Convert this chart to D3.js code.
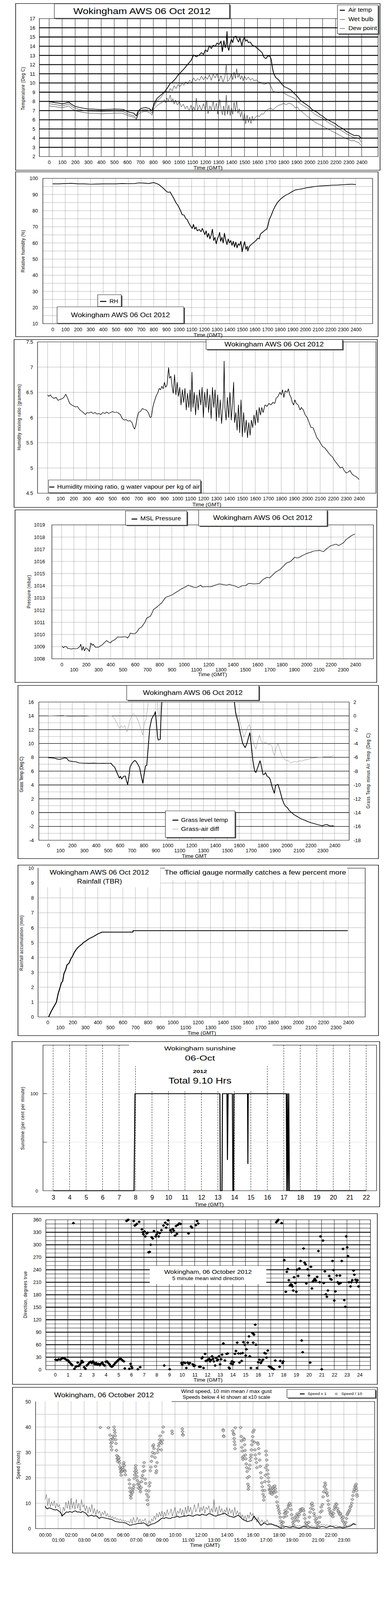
<!DOCTYPE html>
<html><head><meta charset="utf-8">
<script src="https://cdn.jsdelivr.net/npm/d3@7"></script>
<style>body{margin:0;background:#fff;overflow:hidden}</style>
</head><body>
<script>
// ---------- data ----------
// times are decimal hours, 0..24
var airTemp = [[0,7.95],[0.25,7.92],[0.5,7.85],[0.75,7.8],[1.0,7.72],[1.25,7.8],[1.5,7.92],[1.7,7.7],[2.0,7.45],[2.3,7.35],[2.6,7.26],[3.0,7.17],[3.5,7.15],[4.0,7.1],[4.5,7.13],[5.0,7.16],[5.4,7.15],[5.7,7.12],[5.9,6.95],[6.2,6.8],[6.5,6.72],[6.7,6.42],[6.85,6.98],[7.1,7.25],[7.4,7.34],[7.7,7.2],[7.9,6.98],[8.05,7.7],[8.3,8.35],[8.6,8.7],[8.9,9.1],[9.1,9.5],[9.3,9.95],[9.5,10.15],[9.7,10.45],[9.9,10.85],[10.1,11.15],[10.4,11.6],[10.6,11.95],[10.9,12.45],[11.1,13.05],[11.3,12.85],[11.5,13.0],[11.7,13.3],[11.85,13.1],[12.0,13.6],[12.15,13.4],[12.3,14.05],[12.45,13.75],[12.6,14.1],[12.75,14.0],[12.9,14.35],[13.05,14.2],[13.2,14.55],[13.3,13.4],[13.42,14.6],[13.52,13.85],[13.6,14.2],[13.66,15.6],[13.72,13.9],[13.8,13.55],[13.9,14.3],[14.0,14.75],[14.1,14.4],[14.2,15.0],[14.35,15.1],[14.45,14.7],[14.55,14.45],[14.65,14.9],[14.8,14.05],[14.9,14.7],[15.0,14.95],[15.1,14.55],[15.2,14.7],[15.3,14.4],[15.45,14.45],[15.6,14.1],[15.8,14.0],[16.0,13.75],[16.2,13.5],[16.35,13.3],[16.5,12.8],[16.65,12.65],[16.8,12.95],[16.95,12.9],[17.05,12.6],[17.15,11.6],[17.25,11.0],[17.4,10.6],[17.65,10.3],[17.85,9.9],[18.05,9.6],[18.3,9.45],[18.55,9.25],[18.8,8.9],[19.05,8.55],[19.3,8.1],[19.55,7.85],[19.8,7.6],[20.0,7.4],[20.2,7.1],[20.4,6.95],[20.6,6.8],[20.8,6.55],[21.0,6.4],[21.2,6.15],[21.4,6.0],[21.6,5.85],[21.8,5.7],[22.0,5.55],[22.2,5.3],[22.4,5.15],[22.6,5.0],[22.8,4.75],[23.0,4.6],[23.2,4.45],[23.4,4.3],[23.6,4.3],[23.8,4.25],[23.95,4.0]];
var wetBulb = [[0,7.75],[0.5,7.65],[1.0,7.5],[1.5,7.72],[1.8,7.4],[2.1,7.2],[2.6,7.02],[3.0,6.95],[3.5,6.93],[4.0,6.9],[4.5,6.93],[5.0,6.95],[5.6,6.93],[5.9,6.75],[6.2,6.55],[6.5,6.45],[6.7,6.12],[6.85,6.8],[7.1,7.05],[7.4,7.12],[7.7,7.0],[7.9,6.72],[8.05,7.5],[8.3,8.05],[8.6,8.45],[8.8,8.85],[9.0,9.1],[9.15,8.95],[9.3,9.4],[9.45,9.15],[9.6,9.7],[9.75,9.4],[9.9,9.85],[10.05,9.6],[10.2,9.95],[10.35,9.75],[10.5,10.15],[10.65,9.9],[10.8,10.3],[10.95,10.05],[11.1,10.55],[11.25,10.2],[11.4,10.5],[11.55,10.3],[11.7,10.75],[11.85,10.35],[12.0,10.7],[12.15,10.4],[12.3,10.9],[12.45,10.3],[12.6,10.95],[12.75,10.55],[12.9,11.0],[13.05,10.2],[13.2,10.8],[13.35,10.1],[13.5,10.7],[13.6,11.95],[13.7,10.15],[13.8,10.3],[13.9,10.6],[14.0,11.0],[14.1,10.35],[14.2,11.2],[14.3,10.5],[14.4,11.55],[14.5,10.6],[14.6,10.95],[14.7,10.4],[14.8,10.8],[14.9,10.25],[15.0,10.75],[15.15,10.35],[15.3,10.65],[15.45,10.3],[15.6,10.5],[15.75,10.2],[15.9,10.35],[16.1,10.1],[16.3,10.05],[16.5,9.85],[16.7,9.95],[16.85,10.07],[17.0,9.7],[17.2,9.1],[17.4,9.0],[17.6,8.95],[17.9,9.0],[18.15,8.8],[18.4,8.6],[18.65,8.45],[18.9,8.3],[19.05,8.0],[19.3,7.75],[19.55,7.5],[19.8,7.3],[20.0,7.1],[20.2,6.85],[20.4,6.6],[20.6,6.45],[20.8,6.3],[21.0,6.15],[21.2,5.95],[21.4,5.75],[21.6,5.55],[21.8,5.4],[22.0,5.2],[22.2,5.05],[22.4,4.85],[22.6,4.7],[22.8,4.5],[23.0,4.35],[23.2,4.2],[23.4,4.05],[23.6,4.05],[23.8,3.95],[23.95,3.6]];
var dewPoint = [[0,7.5],[0.5,7.42],[1.0,7.3],[1.5,7.5],[1.8,7.15],[2.1,6.95],[2.6,6.8],[3.0,6.72],[3.5,6.7],[4.0,6.65],[4.5,6.68],[5.0,6.72],[5.6,6.72],[5.9,6.55],[6.2,6.38],[6.5,6.3],[6.7,6.0],[6.85,6.6],[7.1,6.85],[7.4,6.92],[7.7,6.8],[7.9,6.5],[8.05,7.2],[8.3,7.55],[8.5,7.75],[8.7,7.9],[8.85,8.2],[8.95,7.85],[9.05,8.35],[9.15,8.05],[9.3,8.7],[9.4,7.95],[9.5,8.3],[9.6,7.7],[9.7,8.15],[9.85,7.6],[10.0,7.95],[10.15,7.4],[10.3,7.7],[10.45,7.2],[10.6,7.5],[10.75,6.95],[10.9,7.6],[11.0,6.9],[11.1,7.4],[11.2,7.0],[11.3,8.35],[11.4,7.05],[11.55,7.6],[11.7,7.0],[11.85,7.75],[12.0,7.0],[12.1,8.1],[12.2,6.65],[12.35,7.5],[12.45,7.05],[12.6,8.0],[12.7,7.0],[12.85,7.8],[12.95,6.6],[13.1,8.2],[13.2,7.2],[13.3,6.55],[13.4,7.5],[13.5,6.45],[13.6,8.7],[13.7,6.6],[13.8,7.6],[13.9,6.45],[14.0,7.3],[14.1,6.6],[14.2,7.9],[14.3,6.9],[14.4,8.05],[14.5,6.7],[14.6,7.2],[14.7,6.3],[14.8,6.9],[14.9,5.9],[15.0,6.7],[15.1,5.55],[15.2,6.5],[15.3,5.7],[15.4,6.3],[15.5,5.6],[15.6,6.4],[15.7,5.9],[15.85,6.3],[16.0,6.45],[16.15,6.35],[16.3,6.65],[16.45,6.6],[16.6,6.9],[16.8,7.15],[17.0,7.25],[17.2,7.1],[17.4,7.35],[17.6,7.55],[17.8,7.65],[18.0,7.78],[18.2,7.65],[18.4,7.8],[18.6,7.72],[18.8,7.5],[18.9,7.28],[19.05,7.4],[19.2,7.1],[19.4,6.9],[19.6,6.65],[19.8,6.4],[20.0,6.2],[20.2,5.95],[20.4,5.75],[20.6,5.6],[20.8,5.45],[21.0,5.3],[21.2,5.15],[21.4,5.0],[21.6,4.85],[21.8,4.7],[22.0,4.55],[22.2,4.4],[22.4,4.25],[22.6,4.1],[22.8,3.95],[23.0,3.85],[23.2,3.7],[23.4,3.75],[23.6,3.6],[23.8,3.5],[23.95,3.2]];

var relHum = [[0,96.6],[0.5,96.6],[1,96.8],[1.5,96.9],[2,96.6],[2.5,96.6],[3,96.4],[3.5,96.5],[4,96.6],[4.5,96.6],[5,96.6],[5.5,96.8],[6,96.7],[6.5,96.8],[6.8,97.2],[7.2,97.1],[7.6,96.8],[8.0,97.4],[8.2,96.9],[8.4,96.2],[8.6,95],[8.8,93.6],[9.0,92.0],[9.15,91.3],[9.3,91.6],[9.45,89.5],[9.6,87.5],[9.75,85.0],[9.9,83.5],[10.0,82.0],[10.1,80.5],[10.25,77.5],[10.4,77.3],[10.55,75.0],[10.65,74.5],[10.8,72.0],[10.95,70.2],[11.05,69.0],[11.15,71.5],[11.25,68.5],[11.35,69.8],[11.45,67.5],[11.6,68.3],[11.75,67.0],[11.85,69.0],[11.95,67.2],[12.05,65.2],[12.15,67.5],[12.25,63.5],[12.35,66.0],[12.45,62.5],[12.55,64.8],[12.65,68.5],[12.75,61.5],[12.85,63.5],[12.95,59.5],[13.05,62.5],[13.15,64.5],[13.22,66.5],[13.3,61.0],[13.4,63.5],[13.5,60.0],[13.6,66.0],[13.7,62.0],[13.8,59.0],[13.9,62.5],[14.0,60.0],[14.1,61.5],[14.2,58.5],[14.3,61.0],[14.4,57.5],[14.5,60.5],[14.6,57.0],[14.7,59.5],[14.8,58.5],[14.9,61.0],[15.0,54.5],[15.1,58.0],[15.2,60.8],[15.3,56.0],[15.4,58.0],[15.45,55.0],[15.55,57.5],[15.65,58.5],[15.8,59.5],[15.95,60.5],[16.1,61.5],[16.25,63.0],[16.35,62.5],[16.45,65.5],[16.6,66.5],[16.75,67.5],[16.85,68.2],[16.95,68.5],[17.05,71.0],[17.15,74.5],[17.3,77.0],[17.45,80.0],[17.6,82.5],[17.75,84.5],[17.9,86.0],[18.05,87.2],[18.25,88.5],[18.45,89.6],[18.7,90.5],[18.95,91.8],[19.2,92.8],[19.5,93.2],[19.8,93.6],[20.1,94.2],[20.4,94.5],[20.7,94.9],[21.0,95.2],[21.4,95.4],[21.8,95.6],[22.2,95.8],[22.6,95.9],[23.0,96.1],[23.4,96.3],[23.7,96.4],[24.0,96.2]];

var mixRatio = [[0,6.45],[0.1,6.42],[0.2,6.45],[0.35,6.4],[0.5,6.38],[0.65,6.4],[0.8,6.34],[0.95,6.36],[1.1,6.37],[1.25,6.4],[1.4,6.46],[1.55,6.38],[1.7,6.28],[1.85,6.25],[2.0,6.23],[2.15,6.21],[2.3,6.22],[2.45,6.16],[2.6,6.13],[2.75,6.1],[2.9,6.06],[3.05,6.1],[3.2,6.09],[3.35,6.11],[3.5,6.08],[3.65,6.1],[3.8,6.07],[3.95,6.08],[4.1,6.06],[4.25,6.1],[4.4,6.08],[4.55,6.11],[4.7,6.08],[4.85,6.1],[5.0,6.12],[5.15,6.1],[5.3,6.11],[5.45,6.09],[5.6,6.06],[5.75,5.98],[5.9,5.95],[6.05,5.96],[6.2,5.93],[6.35,5.94],[6.5,5.9],[6.6,5.82],[6.7,5.77],[6.8,5.85],[6.9,6.0],[7.0,6.1],[7.15,6.12],[7.3,6.18],[7.45,6.16],[7.6,6.15],[7.75,6.1],[7.9,6.0],[8.0,6.02],[8.1,6.2],[8.2,6.3],[8.35,6.42],[8.5,6.5],[8.6,6.58],[8.7,6.55],[8.8,6.62],[8.9,6.57],[9.0,6.7],[9.1,6.6],[9.2,6.65],[9.32,6.99],[9.4,6.78],[9.5,6.82],[9.6,6.6],[9.68,6.48],[9.78,6.85],[9.88,6.45],[9.98,6.7],[10.08,6.42],[10.18,6.6],[10.28,6.25],[10.38,6.55],[10.48,6.3],[10.58,6.58],[10.68,6.15],[10.78,6.48],[10.88,6.2],[10.98,6.55],[11.05,6.12],[11.12,6.9],[11.2,6.2],[11.3,6.5],[11.4,6.05],[11.5,6.45],[11.6,6.15],[11.7,6.55],[11.8,6.25],[11.9,6.6],[12.0,6.0],[12.1,6.5],[12.2,6.2],[12.3,6.57],[12.4,6.1],[12.5,6.45],[12.6,5.98],[12.7,6.6],[12.8,6.2],[12.9,6.55],[13.0,5.93],[13.1,6.45],[13.2,6.0],[13.3,6.35],[13.4,5.88],[13.5,6.2],[13.55,6.45],[13.6,7.12],[13.66,6.2],[13.75,5.95],[13.85,6.4],[13.95,6.0],[14.05,6.5],[14.15,5.95],[14.25,6.3],[14.33,6.7],[14.4,5.9],[14.5,6.1],[14.6,5.75],[14.7,6.25],[14.8,5.7],[14.9,6.35],[15.0,5.62],[15.1,6.1],[15.2,5.7],[15.3,5.95],[15.4,5.6],[15.5,5.9],[15.6,5.65],[15.7,5.95],[15.8,5.8],[15.9,6.05],[16.0,5.85],[16.1,6.15],[16.2,5.9],[16.3,6.2],[16.4,6.05],[16.5,6.2],[16.6,6.1],[16.75,6.25],[16.9,6.22],[17.05,6.28],[17.2,6.25],[17.35,6.3],[17.5,6.28],[17.6,6.38],[17.75,6.42],[17.9,6.5],[18.0,6.45],[18.1,6.55],[18.2,6.4],[18.3,6.53],[18.45,6.5],[18.55,6.57],[18.65,6.45],[18.75,6.4],[18.85,6.3],[18.95,6.25],[19.05,6.35],[19.15,6.28],[19.3,6.25],[19.45,6.15],[19.55,6.2],[19.7,6.15],[19.85,6.05],[20.0,6.0],[20.15,5.9],[20.3,5.8],[20.45,5.8],[20.6,5.7],[20.75,5.6],[20.9,5.55],[21.05,5.48],[21.2,5.42],[21.35,5.4],[21.5,5.35],[21.65,5.3],[21.8,5.25],[21.95,5.22],[22.1,5.15],[22.25,5.1],[22.4,5.05],[22.55,5.0],[22.7,5.02],[22.85,4.95],[23.0,4.9],[23.15,4.92],[23.3,4.95],[23.45,4.88],[23.6,4.85],[23.75,4.83],[23.9,4.8],[24.0,4.77]];

var mslPressure = [[0.04,1009.05],[0.15,1008.9],[0.25,1009.02],[0.39,1009.0],[0.5,1008.85],[0.6,1008.85],[0.8,1008.8],[0.95,1008.85],[1.1,1008.82],[1.3,1008.85],[1.4,1008.95],[1.48,1009.0],[1.56,1009.2],[1.66,1008.7],[1.76,1009.0],[1.86,1008.65],[1.98,1008.9],[2.13,1008.8],[2.27,1008.6],[2.38,1009.3],[2.5,1009.1],[2.58,1009.2],[2.75,1008.95],[3.0,1008.95],[3.15,1009.05],[3.26,1009.1],[3.46,1009.3],[3.67,1009.5],[3.8,1009.4],[3.98,1009.3],[4.1,1009.45],[4.22,1009.5],[4.4,1009.62],[4.59,1009.8],[4.8,1009.78],[5.0,1009.8],[5.27,1009.8],[5.37,1009.7],[5.5,1009.85],[5.61,1010.12],[5.8,1010.05],[6.02,1010.08],[6.18,1010.25],[6.33,1010.5],[6.54,1010.62],[6.8,1011.0],[6.95,1011.35],[7.05,1011.4],[7.25,1011.5],[7.4,1011.8],[7.5,1012.05],[7.65,1012.15],[7.83,1012.3],[8.0,1012.45],[8.18,1012.6],[8.35,1012.85],[8.48,1013.02],[8.6,1013.1],[8.79,1013.15],[9.0,1013.25],[9.1,1013.3],[9.25,1013.4],[9.4,1013.5],[9.6,1013.62],[9.8,1013.75],[10.0,1013.85],[10.2,1013.95],[10.35,1014.05],[10.5,1013.98],[10.7,1013.92],[10.9,1013.85],[11.05,1013.88],[11.2,1013.95],[11.35,1014.05],[11.5,1013.9],[11.66,1013.92],[11.9,1013.93],[12.17,1013.92],[12.4,1014.0],[12.68,1014.1],[12.9,1014.15],[13.1,1014.12],[13.3,1014.08],[13.5,1014.05],[13.7,1014.12],[13.9,1014.05],[14.1,1014.0],[14.3,1013.92],[14.43,1013.85],[14.6,1013.92],[14.73,1014.0],[15.04,1014.02],[15.25,1014.18],[15.4,1014.2],[15.66,1014.15],[15.9,1014.17],[16.17,1014.2],[16.3,1014.35],[16.43,1014.5],[16.6,1014.6],[16.78,1014.7],[16.99,1014.65],[17.15,1014.8],[17.3,1014.95],[17.45,1015.1],[17.6,1015.2],[17.8,1015.3],[17.95,1015.45],[18.11,1015.6],[18.25,1015.75],[18.42,1015.9],[18.6,1015.95],[18.73,1016.02],[18.9,1016.2],[19.04,1016.35],[19.2,1016.28],[19.34,1016.3],[19.55,1016.42],[19.75,1016.52],[19.95,1016.62],[20.16,1016.7],[20.35,1016.75],[20.57,1016.85],[20.8,1016.88],[21.09,1016.9],[21.25,1016.85],[21.39,1016.8],[21.6,1017.0],[21.8,1017.15],[22.0,1017.3],[22.2,1017.35],[22.42,1017.42],[22.62,1017.3],[22.8,1017.4],[22.99,1017.5],[23.1,1017.62],[23.24,1017.8],[23.45,1017.95],[23.65,1018.1],[23.8,1018.18],[23.95,1018.25]];

var grassTemp = [[0,7.95],[0.25,7.92],[0.5,7.88],[0.75,7.75],[0.95,7.7],[1.15,7.8],[1.35,7.92],[1.55,7.85],[1.7,7.5],[2.0,7.4],[2.3,7.35],[2.6,7.18],[3.0,7.15],[3.4,7.13],[3.8,7.16],[4.2,7.12],[4.6,7.13],[5.0,7.12],[5.25,7.15],[5.4,6.8],[5.55,6.6],[5.7,6.0],[5.85,5.4],[5.95,5.0],[6.05,5.25],[6.15,4.85],[6.3,5.25],[6.45,5.3],[6.55,4.6],[6.65,4.05],[6.75,5.2],[6.85,6.6],[7.0,7.1],[7.15,7.4],[7.25,7.55],[7.35,7.4],[7.5,7.0],[7.65,6.5],[7.8,5.2],[7.92,4.25],[8.05,5.8],[8.15,6.8],[8.25,6.8],[8.35,9.0],[8.5,12.2],[8.65,13.5],[8.8,14.0],[8.9,14.2],[8.97,14.6],[9.05,13.2],[9.15,11.0],[9.22,10.5],[9.38,10.6],[9.45,14.0],[9.55,17],[10.2,21],[12,24],[14,23],[15.4,19],[15.7,14.5],[15.8,13.8],[15.95,12.8],[16.1,11.5],[16.3,10.0],[16.5,9.4],[16.65,10.0],[16.8,11.0],[16.9,11.55],[17.0,10.0],[17.15,7.5],[17.3,6.0],[17.4,5.8],[17.55,6.5],[17.75,7.5],[17.85,6.8],[18.0,5.5],[18.1,5.5],[18.2,5.8],[18.35,5.25],[18.5,5.1],[18.6,4.8],[18.75,3.8],[18.95,2.8],[19.05,3.9],[19.25,4.1],[19.4,3.3],[19.6,2.0],[19.75,1.3],[19.9,0.9],[20.05,0.7],[20.2,0.3],[20.4,0.0],[20.6,-0.3],[20.85,-0.55],[21.05,-0.75],[21.25,-0.95],[21.5,-1.1],[21.75,-1.3],[22.0,-1.45],[22.3,-1.6],[22.6,-1.75],[22.85,-1.85],[23.0,-1.9],[23.2,-1.75],[23.35,-1.72],[23.5,-1.85],[23.7,-1.95],[23.85,-1.9],[23.95,-2.0]];
var grassAirDiff = [[0,0],[0.5,0.02],[1,0.05],[1.2,0.1],[1.4,-0.02],[1.8,-0.1],[2.4,-0.05],[3,-0.08],[3.5,0],[4,0.02],[4.5,0.02],[5.0,0.03],[5.3,0.0],[5.45,-0.2],[5.6,-0.6],[5.75,-1.1],[5.9,-1.6],[6.0,-1.8],[6.1,-1.4],[6.25,-1.7],[6.4,-1.4],[6.5,-1.9],[6.6,-2.3],[6.72,-1.5],[6.85,-0.6],[7.0,0.1],[7.1,0.3],[7.25,0.2],[7.4,-0.2],[7.55,-0.8],[7.7,-1.6],[7.85,-2.4],[7.92,-2.8],[8.0,-1.5],[8.1,-0.8],[8.2,-0.5],[8.3,0.8],[8.4,2.5],[8.6,4],[9.0,5],[9.2,0.5],[9.32,0.0],[9.42,2.5],[9.6,5],[12,8],[15.4,4],[15.62,1.5],[15.72,0.0],[15.85,-0.2],[15.95,0.1],[16.05,-0.8],[16.2,-1.8],[16.4,-3.1],[16.55,-2.4],[16.75,-1.5],[16.88,-1.25],[17.0,-2.4],[17.2,-4.0],[17.4,-4.8],[17.55,-3.7],[17.7,-2.8],[17.85,-3.6],[18.0,-4.1],[18.15,-3.8],[18.3,-3.9],[18.45,-4.2],[18.6,-4.1],[18.75,-4.4],[18.85,-5.3],[18.95,-5.75],[19.1,-4.6],[19.26,-4.05],[19.4,-4.8],[19.6,-5.8],[19.8,-6.3],[19.95,-6.5],[20.1,-6.45],[20.3,-6.8],[20.5,-6.7],[20.65,-6.6],[20.85,-6.7],[21.05,-6.5],[21.25,-6.55],[21.45,-6.4],[21.65,-6.35],[21.85,-6.25],[22.05,-6.15],[22.25,-6.1],[22.45,-6.05],[22.65,-6.0],[22.85,-6.0],[23.05,-5.95],[23.25,-5.9],[23.45,-5.95],[23.65,-5.9],[23.8,-5.85],[23.95,-5.6]];

var rainAccum = [[0.08,0],[0.3,0.4],[0.5,0.7],[0.7,1.0],[0.85,1.6],[1.0,2.0],[1.1,2.3],[1.2,2.4],[1.3,2.9],[1.45,3.2],[1.55,3.5],[1.7,3.6],[1.85,3.9],[2.0,4.1],[2.1,4.3],[2.25,4.5],[2.45,4.7],[2.6,4.8],[2.75,4.9],[2.85,5.0],[3.05,5.1],[3.2,5.2],[3.4,5.3],[3.65,5.4],[3.85,5.5],[4.05,5.6],[4.35,5.7],[6.8,5.7],[6.82,5.8],[23.95,5.8]];

var sunshine = [[3,0],[7.91,0],[7.97,100],[13.12,100],[13.15,0],[13.25,0],[13.28,100],[13.55,100],[13.58,32],[13.62,100],[13.88,100],[13.91,0],[13.95,0],[13.97,100],[14.8,100],[14.82,28],[14.84,100],[17.15,100],[17.18,0],[17.22,100],[17.26,0],[17.3,100],[17.34,0],[22,0]];

var windDir = [[0.04,24],[0.16,23],[0.28,25],[0.4,24],[0.49,26],[0.61,28],[0.73,27],[0.83,25],[0.93,23],[1.03,22],[1.13,18],[1.25,14],[1.34,11],[1.44,352],[1.52,2],[1.62,7],[1.7,8],[1.78,17],[1.86,9],[1.94,12],[2.04,16],[2.11,21],[2.19,18],[2.29,6],[2.39,2],[2.49,10],[2.59,13],[2.69,17],[2.79,19],[2.89,16],[2.98,20],[3.06,17],[3.14,13],[3.24,16],[3.32,12],[3.42,14],[3.52,11],[3.62,15],[3.72,17],[3.79,13],[3.89,10],[3.99,19],[4.09,20],[4.19,16],[4.29,13],[4.37,9],[4.47,7],[4.55,9],[4.64,12],[4.74,16],[4.84,19],[4.94,22],[5.04,25],[5.14,26],[5.22,25],[5.32,22],[5.42,20],[5.49,3],[5.63,357],[5.69,359],[5.77,360],[5.85,2],[5.95,14],[6.01,8],[6.07,4],[6.19,357],[6.28,346],[6.36,348],[6.44,350],[6.52,1],[6.62,355],[6.7,6],[6.84,337],[6.9,330],[6.96,325],[7.04,332],[7.11,320],[7.21,327],[7.29,329],[7.37,282],[7.45,283],[7.53,300],[7.61,318],[7.69,315],[7.79,333],[7.92,320],[8.0,325],[8.08,330],[8.16,320],[8.24,328],[8.38,335],[8.54,346],[8.6,10],[8.68,353],[8.75,341],[8.85,349],[8.91,359],[9.03,1],[9.09,335],[9.17,330],[9.27,338],[9.35,334],[9.45,322],[9.53,345],[9.6,326],[9.68,348],[9.78,351],[9.88,350],[9.96,16],[10.02,12],[10.12,17],[10.24,16],[10.34,4],[10.45,17],[10.51,327],[10.55,14],[10.63,16],[10.71,344],[10.79,341],[10.85,13],[10.93,9],[11.01,10],[11.09,347],[11.19,357],[11.28,351],[11.36,7],[11.46,7],[11.56,27],[11.62,30],[11.7,4],[11.82,38],[11.88,21],[11.98,22],[12.06,24],[12.14,26],[12.21,20],[12.29,23],[12.37,32],[12.45,26],[12.51,20],[12.61,10],[12.69,28],[12.77,22],[12.83,24],[12.91,32],[13.0,13],[13.08,25],[13.16,36],[13.26,63],[13.38,22],[13.52,38],[13.6,39],[13.7,5],[13.75,3],[13.85,15],[13.93,20],[13.99,13],[14.07,18],[14.17,38],[14.25,45],[14.35,65],[14.45,39],[14.53,17],[14.62,39],[14.7,21],[14.78,40],[14.84,66],[14.94,60],[15.02,34],[15.08,49],[15.18,65],[15.28,80],[15.34,32],[15.43,4],[15.55,88],[15.61,65],[15.63,86],[15.67,84],[15.77,108],[15.83,60],[15.91,4],[16.01,18],[16.11,24],[16.21,16],[16.28,20],[16.38,24],[16.5,40],[16.6,39],[16.66,29],[16.76,46],[16.86,8],[16.94,6],[17.02,6],[17.11,3],[17.23,1],[17.35,22],[17.43,354],[17.51,357],[17.59,360],[17.69,7],[17.75,21],[17.85,352],[17.92,16],[17.98,20],[18.06,263],[18.18,187],[18.26,235],[18.34,242],[18.42,215],[18.5,202],[18.58,205],[18.64,204],[18.7,200],[18.77,190],[18.83,222],[18.93,208],[19.01,187],[19.07,240],[19.15,225],[19.25,243],[19.35,261],[19.43,70],[19.51,42],[19.58,291],[19.66,257],[19.74,253],[19.8,207],[19.9,241],[20.0,226],[20.1,17],[20.16,247],[20.24,195],[20.32,212],[20.4,215],[20.47,218],[20.55,214],[20.65,223],[20.75,285],[20.85,210],[20.91,320],[21.01,1],[21.11,310],[21.17,208],[21.26,236],[21.34,181],[21.42,175],[21.5,190],[21.6,225],[21.7,218],[21.78,216],[21.86,261],[21.94,239],[22.0,166],[22.09,188],[22.19,226],[22.27,210],[22.37,206],[22.45,226],[22.49,208],[22.59,261],[22.69,290],[22.79,167],[22.87,151],[22.94,320],[23.02,294],[23.08,273],[23.16,210],[23.28,200],[23.34,210],[23.42,215],[23.52,238],[23.58,228],[23.68,216],[23.75,210],[23.83,215],[23.91,200]];

var meanSpeed = [[0,8.9],[0.1,8.0],[0.17,7.8],[0.3,8.2],[0.43,8.0],[0.6,7.6],[0.78,7.3],[0.9,7.5],[1.04,7.0],[1.15,6.5],[1.22,6.1],[1.3,4.9],[1.4,5.5],[1.48,5.7],[1.55,6.2],[1.65,6.6],[1.78,6.4],[1.91,6.8],[2.0,6.5],[2.09,6.4],[2.2,6.8],[2.35,7.0],[2.48,6.5],[2.61,6.6],[2.75,6.3],[2.87,6.8],[3.0,6.4],[3.13,6.1],[3.22,5.5],[3.3,4.9],[3.45,5.1],[3.57,5.3],[3.75,4.9],[3.91,5.1],[4.05,4.6],[4.17,4.0],[4.3,4.5],[4.43,4.4],[4.6,4.2],[4.78,4.0],[4.95,3.8],[5.13,3.6],[5.3,3.1],[5.48,2.75],[5.65,2.6],[5.83,2.5],[6.0,2.4],[6.17,2.3],[6.35,1.8],[6.52,1.3],[6.7,1.5],[6.87,1.7],[7.05,1.9],[7.22,2.1],[7.4,2.0],[7.57,2.3],[7.75,1.8],[7.91,1.05],[8.05,1.4],[8.17,1.7],[8.3,1.9],[8.43,2.1],[8.6,2.6],[8.78,3.2],[8.9,3.8],[9.04,4.2],[9.17,4.0],[9.3,4.4],[9.48,4.1],[9.65,4.0],[9.78,4.4],[9.91,4.4],[10.05,4.6],[10.17,4.9],[10.35,4.5],[10.52,4.7],[10.7,5.0],[10.87,4.9],[11.05,5.3],[11.22,5.1],[11.39,4.9],[11.55,5.3],[11.74,5.5],[11.9,5.2],[12.09,5.7],[12.25,5.4],[12.43,5.3],[12.6,5.9],[12.78,5.7],[12.95,5.2],[13.13,4.9],[13.3,5.3],[13.48,5.5],[13.65,5.8],[13.83,6.1],[14.0,5.4],[14.17,4.9],[14.35,4.7],[14.52,4.4],[14.7,4.9],[14.87,5.3],[15.05,4.5],[15.22,3.6],[15.4,3.2],[15.57,2.75],[15.75,3.0],[15.91,3.2],[16.0,4.2],[16.09,4.9],[16.2,4.0],[16.35,3.2],[16.48,2.2],[16.61,1.3],[16.75,1.8],[16.87,2.3],[17.0,1.9],[17.13,1.5],[17.3,1.8],[17.48,1.7],[17.65,1.3],[17.83,1.05],[18.0,0.6],[18.17,0.2],[18.35,0.5],[18.52,0.85],[18.7,0.6],[18.87,0.4],[19.05,0.8],[19.22,0.6],[19.4,0.35],[19.57,0.2],[19.75,0.5],[19.91,0.85],[20.1,0.6],[20.26,0.4],[20.45,0.6],[20.61,0.4],[20.8,0.35],[20.96,0.2],[21.15,0.6],[21.3,0.85],[21.5,0.7],[21.65,0.4],[21.85,0.8],[22.0,1.05],[22.2,0.7],[22.35,0.4],[22.55,0.5],[22.7,0.6],[22.9,0.3],[23.04,0.4],[23.2,0.6],[23.39,0.85],[23.55,1.2],[23.74,1.9],[23.85,1.6],[23.91,1.5]];
// max gust, one reading every 0.1 h from 00:00
var gustSpeed = [11.5,13.5,9.0,12.0,8.5,10.5,9.0,11.0,8.0,10.0,
 8.5,9.5,6.5,5.0,8.5,7.0,10.5,8.0,11.0,7.5,
 12.0,8.0,10.5,7.5,11.5,8.0,10.0,7.0,11.5,8.5,
 9.5,7.0,9.0,6.0,8.5,6.5,9.5,6.0,8.0,5.5,
 7.5,6.0,7.0,5.0,6.5,5.5,7.0,4.8,6.0,4.5,
 5.2,4.2,4.8,3.8,4.5,3.5,4.0,3.2,3.8,3.0,
 3.5,2.8,3.2,2.5,3.0,2.2,3.8,2.0,4.5,2.5,
 3.0,4.5,2.5,3.8,2.2,3.5,2.8,4.0,2.2,1.5,
 3.2,2.0,3.8,3.0,5.0,3.5,6.0,4.5,6.5,5.0,
 7.0,4.5,6.5,5.0,7.5,5.5,6.0,7.8,5.0,6.5,
 8.5,5.0,7.0,6.0,8.0,5.5,7.5,4.5,8.5,6.0,
 9.0,6.5,8.5,5.5,7.5,9.5,6.5,8.0,10.0,6.5,
 8.5,7.0,9.0,6.0,8.5,7.5,9.0,6.0,8.0,6.5,
 11.5,6.5,8.5,5.5,9.0,6.5,8.0,5.5,7.5,6.5,
 8.5,5.5,8.0,6.0,7.5,5.0,8.5,5.5,7.0,5.5,
 6.5,4.5,5.5,3.5,5.0,3.0,5.5,4.0,6.5,5.0,
 6.0,3.5,4.0,2.5,4.5,3.0,2.5,3.5,2.0,3.0,
 2.5,3.5,2.0,1.8,2.2,1.5,1.8,1.2,1.5,1.0,
 0.8,1.2,0.6,1.0,1.4,0.8,1.0,0.6,1.2,0.9,
 0.7,1.1,1.5,0.8,1.2,0.9,1.4,0.7,1.0,1.2,
 0.9,1.3,0.7,1.1,0.8,1.4,1.0,0.6,1.2,0.8,
 0.6,1.0,1.4,1.8,1.3,1.6,1.2,1.5,1.0,1.3,
 1.1,0.8,1.2,1.0,1.4,0.9,0.7,1.0,0.6,0.9,
 0.7,1.0,1.2,1.0,1.4,1.6,1.8,2.2,2.0,1.8,
 1.5];
// speeds below 4 kt, plotted at x10
var lowSpeedX10 = [[4.25,39.8],[4.87,39.7],
 [5.0,36.8],[5.04,35.0],[5.07,33.6],[5.1,32.3],[5.13,31.0],[5.17,34.0],[5.2,35.5],[5.24,36.5],[5.27,35.2],[5.31,40.0],[5.34,38.8],[5.37,37.8],[5.4,36.5],[5.43,35.0],[5.46,33.5],[5.49,30.8],[5.52,28.8],[5.55,27.5],[5.58,26.5],[5.61,28.3],[5.64,27.6],[5.67,28.0],[5.7,26.8],[5.73,25.8],[5.76,24.3],[5.79,23.3],[5.82,22.2],[5.85,21.0],[5.88,22.5],[5.91,23.6],[5.94,22.8],[5.97,24.0],[6.0,23.2],[6.03,25.3],[6.06,26.0],[6.09,24.8],[6.12,23.0],[6.15,22.5],[6.18,21.2],
 [6.47,19.2],[6.5,17.6],[6.52,16.0],[6.55,14.6],[6.58,13.0],[6.6,12.0],[6.63,13.2],[6.66,14.0],[6.7,14.8],[6.73,14.2],[6.76,15.5],[6.8,16.2],[6.83,17.2],[6.86,19.8],[6.89,21.2],[6.92,22.5],[6.95,23.8],[6.98,24.8],[7.01,23.0],[7.04,22.0],[7.07,20.5],[7.1,19.0],[7.14,17.5],[7.18,16.0],[7.22,18.0],[7.26,17.0],[7.3,15.5],[7.34,14.5],[7.38,16.2],[7.42,18.5],[7.46,20.0],[7.5,21.0],[7.54,22.5],[7.58,24.5],[7.62,26.0],[7.66,22.8],[7.7,19.5],[7.74,17.8],[7.78,15.0],[7.82,13.5],[7.86,11.2],[7.9,9.5],[7.94,12.5],[7.98,14.8],[8.02,16.8],[8.06,18.0],[8.1,22.8],[8.14,24.2],[8.18,26.5],[8.22,28.5],[8.26,30.0],[8.3,32.5],[8.34,33.0],[8.38,31.5],[8.42,29.5],[8.46,28.0],[8.5,24.5],[8.54,22.0],[8.58,22.8],[8.62,26.0],[8.66,30.0],[8.7,31.2],[8.74,32.5],[8.78,33.5],[8.82,35.0],[8.86,36.5],[8.9,34.0],[8.94,31.0],[8.98,33.5],[9.02,34.8],[9.06,38.0],[9.1,40.0],
 [9.77,38.4],[9.79,37.4],[10.56,39.3],[10.58,38.2],[10.6,37.0],[10.62,36.8],[13.7,39.0],[13.72,38.5],[13.74,36.5],[13.76,36.2],
 [14.45,38.5],[14.5,37.5],[14.53,37.0],[14.55,35.5],[14.57,34.2],[14.6,33.0],[14.62,31.5],[14.64,39.7],[15.05,39.8],
 [15.1,36.3],[15.13,34.5],[15.15,32.0],[15.18,30.5],[15.2,28.0],[15.23,27.2],[15.26,28.5],[15.3,35.5],[15.33,35.0],[15.36,33.0],[15.39,30.8],[15.42,29.0],[15.45,27.5],[15.48,25.5],[15.52,24.0],[15.55,22.5],[15.58,20.0],[15.61,17.5],[15.64,15.5],[15.67,16.5],[15.7,20.5],[15.73,23.5],[15.76,25.0],[15.79,26.8],[15.82,28.0],[15.85,29.0],[15.88,31.0],[15.91,33.0],[15.95,34.5],[15.98,36.2],[16.0,38.0],
 [16.08,38.8],[16.12,34.0],[16.15,31.0],[16.18,29.0],[16.22,27.5],[16.26,26.0],[16.3,24.0],[16.36,33.8],[16.4,33.2],[16.44,31.5],[16.48,29.5],[16.52,27.0],[16.56,24.5],[16.6,22.0],[16.64,20.0],[16.68,18.0],[16.72,16.5],[16.75,15.0],[16.78,13.5],[16.83,11.2],[16.86,12.5],[16.89,15.0],[16.92,18.5],[16.95,21.0],[16.98,24.0],
 [17.0,30.5],[17.03,29.0],[17.06,27.0],[17.09,25.0],[17.12,23.0],[17.15,21.5],[17.18,20.0],[17.21,18.5],[17.24,17.0],[17.27,15.5],[17.3,15.0],[17.33,14.0],[17.36,16.0],[17.4,15.2],[17.44,14.0],[17.48,13.5],[17.52,15.0],[17.56,16.5],[17.6,15.5],[17.64,14.2],[17.68,16.8],[17.72,15.8],[17.76,14.5],
 [17.8,12.5],[17.85,10.5],[17.9,9.0],[17.95,8.0],[18.0,7.0],[18.05,6.0],[18.1,4.5],[18.15,3.0],[18.2,2.0],[18.25,1.0],[18.28,0.5],
 [18.33,2.5],[18.38,4.5],[18.43,6.0],[18.48,7.2],[18.53,6.2],[18.58,5.0],[18.63,6.5],[18.68,8.0],[18.73,9.0],[18.78,9.5],[18.83,10.0],[18.88,9.2],
 [18.93,7.5],[18.98,5.5],[19.03,4.0],[19.08,2.5],[19.13,1.5],
 [19.2,3.0],[19.25,4.5],[19.3,3.5],[19.35,5.0],[19.4,5.8],[19.45,4.5],[19.5,3.0],[19.55,5.5],[19.6,6.5],[19.65,7.5],[19.7,7.0],[19.75,7.8],[19.8,7.3],[19.85,7.8],[19.9,7.0],
 [19.95,5.5],[20.0,4.0],[20.05,2.5],[20.1,1.5],[20.15,2.0],[20.2,1.0],[20.25,0.5],
 [20.3,2.5],[20.35,4.5],[20.4,6.5],[20.45,8.0],[20.5,9.5],[20.55,10.0],[20.6,9.0],
 [20.65,7.5],[20.7,6.0],[20.75,5.0],[20.8,3.5],[20.85,2.5],[20.9,4.0],[20.95,2.0],[21.0,1.0],[21.05,0.5],
 [21.1,2.5],[21.15,4.5],[21.2,6.5],[21.25,8.5],[21.3,7.0],[21.35,9.5],[21.4,12.5],[21.45,14.5],[21.5,16.5],[21.55,18.0],[21.58,17.2],
 [21.62,15.5],[21.66,14.0],[21.7,14.2],[21.74,13.0],[21.78,11.0],[21.82,9.5],[21.86,8.0],[21.9,7.0],[21.95,6.0],[22.0,5.5],[22.05,6.5],[22.1,5.0],[22.16,4.7],
 [22.2,6.0],[22.25,7.5],[22.3,8.5],[22.35,9.0],[22.4,9.8],[22.45,9.5],
 [22.5,8.0],[22.55,7.0],[22.6,6.5],[22.65,6.0],[22.7,5.5],[22.75,6.0],[22.8,5.0],[22.85,4.0],[22.9,3.0],[22.95,4.5],[23.0,2.5],[23.05,1.8],[23.1,1.0],
 [23.15,2.5],[23.2,4.0],[23.25,5.5],[23.3,6.0],[23.35,6.5],[23.4,7.0],[23.45,7.5],[23.5,8.5],[23.55,9.0],[23.6,10.0],[23.65,11.5],[23.7,13.0],[23.75,14.5],[23.8,15.5],[23.85,16.5],[23.9,17.0],[23.94,17.5],[23.96,16.0],[23.98,15.0],[24.0,13.5],[24.02,12.8]];

// tick values
var hours = d3.range(0, 25);
var evenHours = d3.range(0, 25, 2);
var oddHours = d3.range(1, 24, 2);
var sunHours = d3.range(3, 23);
var tempTicks = d3.range(2, 18);
var rhTicks = d3.range(10, 101, 10);
var mixTicks = [4.5, 5, 5.5, 6, 6.5, 7, 7.5];
var presTicks = d3.range(1008, 1020);
var grassTicks = d3.range(-4, 17, 2);
var diffTicks = d3.range(-18, 3, 2);
var rainTicks = d3.range(0, 11);
var dirTicks = d3.range(0, 361, 30);
var speedTicks = d3.range(0, 51, 10);

// ---------- drawing ----------
const NARROW = '"Liberation Sans Narrow","Arial Narrow","Liberation Sans",sans-serif';
const SANS = '"Liberation Sans",Arial,sans-serif';

// the layout is drawn in a 1000x5000 frame; if the window is shorter,
// squeeze it so all nine panels stay in view
const viewH = Math.min(5000, window.innerHeight || 5000);
const svg = d3.select("body").append("svg")
    .attr("width", 1000).attr("height", viewH)
    .attr("viewBox", "0 0 1000 5000").attr("preserveAspectRatio", "none")
    .style("display", "block");
svg.append("rect").attr("width", 1000).attr("height", 5000).attr("fill", "#fff");

const hhmm = d => String(d * 100);
const clock = d => (d < 10 ? "0" : "") + d + ":00";

// width of a narrow tick label, so labels keep the condensed look
function narrowWidth(s, size) {
    var w = 0;
    for (var i = 0; i < s.length; i++) {
        var ch = s[i];
        if (ch >= "0" && ch <= "9") w += 0.47 * size;
        else if (ch === "." || ch === ":") w += 0.24 * size;
        else if (ch === "-" || ch === "\u2212") w += 0.3 * size;
        else w += 0.45 * size;
    }
    return w;
}

function frame(x0, y0, x1, y1) {
    svg.append("rect").attr("x", x0).attr("y", y0).attr("width", x1 - x0).attr("height", y1 - y0)
        .attr("fill", "none").attr("stroke", "#000").attr("stroke-width", 1.5);
}
function shadowBox(x0, y0, x1, y1) {
    svg.append("rect").attr("x", x0 + 3).attr("y", y0 + 3).attr("width", x1 - x0).attr("height", y1 - y0).attr("fill", "#555");
    svg.append("rect").attr("x", x0).attr("y", y0).attr("width", x1 - x0).attr("height", y1 - y0)
        .attr("fill", "#fff").attr("stroke", "#000").attr("stroke-width", 1);
}
function mask(x0, y0, x1, y1) {
    svg.append("rect").attr("x", x0).attr("y", y0).attr("width", x1 - x0).attr("height", y1 - y0).attr("fill", "#fff");
}
function label(x, y, s, o) {
    o = o || {};
    const t = svg.append("text").attr("x", x).attr("y", y).attr("dy", "0.35em")
        .attr("text-anchor", o.anchor || "middle").attr("font-family", o.family || NARROW)
        .attr("font-size", o.size || 15).attr("font-weight", o.weight || "normal").attr("fill", "#000").text(s);
    if (o.len) t.attr("textLength", o.len).attr("lengthAdjust", o.adjust || "spacingAndGlyphs");
    return t;
}
function vTitle(x, y, s, len) {
    svg.append("text").attr("transform", "translate(" + x + "," + y + ") rotate(-90)")
        .attr("text-anchor", "middle").attr("dy", "0.35em").attr("font-family", SANS).attr("font-size", 13)
        .attr("textLength", len).attr("lengthAdjust", "spacing").attr("fill", "#000").text(s);
}
function styleTicks(g, size) {
    g.select(".domain").remove();
    g.selectAll("text").attr("dy", "0.35em").attr("font-family", NARROW).attr("font-size", size).attr("fill", "#000")
        .attr("textLength", function () { return narrowWidth(this.textContent, size); })
        .attr("lengthAdjust", "spacingAndGlyphs");
}
function bottomLabels(x, y, vals, fmt, size) {
    size = size || 15;
    const g = svg.append("g").attr("transform", "translate(0," + y + ")")
        .call(d3.axisBottom(x).tickValues(vals).tickFormat(fmt).tickSize(0).tickPadding(0));
    g.selectAll("text").attr("y", 0);
    styleTicks(g, size);
}
function leftLabels(y, xe, vals, fmt, size) {
    size = size || 15;
    const g = svg.append("g").attr("transform", "translate(" + xe + ",0)")
        .call(d3.axisLeft(y).tickValues(vals).tickFormat(fmt).tickSize(0).tickPadding(0));
    g.selectAll("text").attr("x", 0);
    styleTicks(g, size);
}
function rightLabels(y, xs, vals, fmt, size) {
    size = size || 15;
    const g = svg.append("g").attr("transform", "translate(" + xs + ",0)")
        .call(d3.axisRight(y).tickValues(vals).tickFormat(fmt).tickSize(0).tickPadding(0));
    g.selectAll("text").attr("x", 0);
    styleTicks(g, size);
}
function vLines(x, vals, y0, y1, st) {
    svg.append("g").selectAll("line").data(vals).join("line")
        .attr("x1", d => x(d)).attr("x2", d => x(d)).attr("y1", y0).attr("y2", y1).call(st);
}
function hLines(y, vals, x0, x1, st) {
    svg.append("g").selectAll("line").data(vals).join("line")
        .attr("y1", d => y(d)).attr("y2", d => y(d)).attr("x1", x0).attr("x2", x1).call(st);
}
const dotted = s => s.attr("stroke", "#000").attr("stroke-width", 1).attr("stroke-dasharray", "1,2");
const solid = w => s => s.attr("stroke", "#000").attr("stroke-width", w);

var clipN = 0;
function clipRect(p) {
    const id = "clip" + (clipN++);
    svg.append("clipPath").attr("id", id).append("rect").attr("x", p.l).attr("y", p.t).attr("width", p.r - p.l).attr("height", p.b - p.t);
    return "url(#" + id + ")";
}
function plotBorder(p) {
    svg.append("rect").attr("x", p.l).attr("y", p.t).attr("width", p.r - p.l).attr("height", p.b - p.t)
        .attr("fill", "none").attr("stroke", "#000").attr("stroke-width", 1.2);
}
function drawLine(data, x, y, clip, color, w) {
    svg.append("path").datum(data).attr("fill", "none").attr("stroke", color).attr("stroke-width", w)
        .attr("stroke-linejoin", "round").attr("clip-path", clip)
        .attr("d", d3.line().x(d => x(d[0])).y(d => y(d[1])));
}
function legendLine(x0, x1, y, color, w) {
    svg.append("line").attr("x1", x0).attr("x2", x1).attr("y1", y).attr("y2", y).attr("stroke", color).attr("stroke-width", w);
}
const diamond = "M0,-4.5L4.3,0L0,4.5L-4.3,0Z";

// ===== 1. temperatures =====
(function () {
    const p = {l: 100.6, t: 58.2, r: 967, b: 489.2};
    const x = d3.scaleLinear().domain([0, 24]).range([125.6, 925]);
    const y = d3.scaleLinear().domain([2, 17]).range([p.b, p.t]);
    frame(40, 11, 972, 532);
    vLines(x, hours, p.t, p.b, solid(1));
    hLines(y, d3.range(3, 17), p.l, p.r, solid(2.8));
    plotBorder(p);
    const c = clipRect(p);
    drawLine(dewPoint, x, y, c, "#111", 1);
    drawLine(wetBulb, x, y, c, "#000", 1);
    drawLine(airTemp, x, y, c, "#000", 2);
    shadowBox(139, 12, 587, 57);
    label(363, 35, "Wokingham AWS 06 Oct 2012", {size: 26, len: 351});
    shadowBox(863, 15.6, 967, 105.5);
    legendLine(869, 882, 32, "#000", 3); label(891, 31, "Air temp", {anchor: "start", size: 17, len: 60});
    legendLine(869, 882, 61, "#000", 1); label(891, 60, "Wet bulb", {anchor: "start", size: 17, len: 64});
    legendLine(869, 882, 89, "#000", 1); label(891, 88, "Dew point", {anchor: "start", size: 17, len: 73});
    bottomLabels(x, 507, hours, hhmm, 15);
    leftLabels(y, 90, tempTicks, d => d, 15);
    label(532, 525, "Time (GMT)", {size: 15, len: 74});
    vTitle(58, 277, "Temperature (Deg C)", 135);
})();

// ===== 2. relative humidity =====
(function () {
    const p = {l: 109.6, t: 557.4, r: 953, b: 1011.5};
    const x = d3.scaleLinear().domain([0, 24]).range([134.6, 910]);
    const y = d3.scaleLinear().domain([10, 100]).range([p.b, p.t]);
    frame(40, 537, 967, 1052);
    vLines(x, hours, p.t, p.b, dotted);
    hLines(y, d3.range(15, 100, 5), p.l, p.r, dotted);
    plotBorder(p);
    drawLine(relHum, x, y, clipRect(p), "#000", 2);
    shadowBox(250, 921, 310, 958);
    legendLine(256, 272, 942, "#000", 3); label(280, 941, "RH", {anchor: "start", size: 17, len: 22});
    shadowBox(146, 959, 470, 1010);
    label(308, 985, "Wokingham AWS 06 Oct 2012", {size: 19, len: 253});
    bottomLabels(x, 1029.6, hours, hhmm, 15);
    leftLabels(y, 97, rhTicks, d => d, 15);
    label(532, 1046.6, "Time (GMT)", {size: 15, len: 74});
    vTitle(58, 785, "Relative humidity (%)", 132);
})();

// ===== 3. mixing ratio =====
(function () {
    const p = {l: 96, t: 1068.4, r: 961.5, b: 1541.3};
    const x = d3.scaleLinear().domain([0, 24]).range([121.8, 918.5]);
    const y = d3.scaleLinear().domain([4.5, 7.5]).range([p.b, p.t]);
    frame(36, 1061, 965, 1585.6);
    vLines(x, hours, p.t, p.b, dotted);
    hLines(y, [5, 5.5, 6, 6.5, 7], p.l, p.r, dotted);
    plotBorder(p);
    drawLine(mixRatio, x, y, clipRect(p), "#000", 1.5);
    shadowBox(527, 1061, 876, 1092);
    label(701, 1076.5, "Wokingham AWS 06 Oct 2012", {size: 19, len: 254});
    shadowBox(124, 1500, 513, 1539.6);
    legendLine(126, 139, 1522, "#000", 3);
    label(146, 1521, "Humidity mixing ratio, g water vapour per kg of air", {anchor: "start", size: 17, len: 365});
    bottomLabels(x, 1559, hours, hhmm, 15);
    leftLabels(y, 84.6, mixTicks, d => String(d), 15);
    label(529, 1576.6, "Time (GMT)", {size: 15, len: 74});
    vTitle(48, 1304, "Humidity mixing ratio (grammes)", 206);
})();

// ===== 4. pressure =====
(function () {
    const p = {l: 132.7, t: 1640.3, r: 955, b: 2058.8};
    const x = d3.scaleLinear().domain([0, 24]).range([157.7, 909]);
    const y = d3.scaleLinear().domain([1008, 1019]).range([p.b, p.t]);
    frame(38.5, 1593.5, 963.5, 2132.5);
    vLines(x, hours, p.t, p.b, dotted);
    hLines(y, d3.range(1009, 1019), p.l, p.r, dotted);
    plotBorder(p);
    drawLine(mslPressure, x, y, clipRect(p), "#000", 1.5);
    shadowBox(321, 1597, 478, 1641);
    legendLine(336.5, 351, 1622, "#000", 3); label(359, 1620, "MSL Pressure", {anchor: "start", size: 17, len: 104});
    shadowBox(508, 1593.5, 836.5, 1643.7);
    label(672, 1618.5, "Wokingham AWS 06 Oct 2012", {size: 19, len: 254});
    bottomLabels(x, 2077, evenHours, hhmm, 15);
    bottomLabels(x, 2092.8, oddHours, hhmm, 15);
    leftLabels(y, 115, presTicks, d => d, 15);
    label(543.6, 2108, "Time (GMT)", {size: 15, len: 74});
    vTitle(73.7, 1849, "Pressure (mbar)", 104);
})();

// ===== 5. grass temperature =====
(function () {
    const p = {l: 99.4, t: 2193.8, r: 893, b: 2625.8};
    const x = d3.scaleLinear().domain([0, 24]).range([123.7, 855.7]);
    const yL = d3.scaleLinear().domain([-4, 16]).range([p.b, p.t]);
    const yR = d3.scaleLinear().domain([-18, 2]).range([p.b, p.t]);
    frame(46, 2142, 968, 2683);
    vLines(x, hours, p.t, p.b, dotted);
    hLines(yL, d3.range(-3, 16, 2), p.l, p.r, dotted);
    hLines(yL, d3.range(-2, 15, 2), p.l, p.r, solid(1.6));
    plotBorder(p);
    const c = clipRect(p);
    drawLine(grassAirDiff, x, yR, c, "#8a8a8a", 1);
    drawLine(grassTemp, x, yL, c, "#000", 2);
    shadowBox(324, 2142, 662, 2188);
    label(493, 2165, "Wokingham AWS 06 Oct 2012", {size: 19, len: 255});
    shadowBox(423, 2534, 601, 2617);
    legendLine(441, 456, 2563, "#000", 3); label(463, 2562, "Grass level temp", {anchor: "start", size: 17, len: 120});
    legendLine(441, 456, 2591, "#8a8a8a", 1.2); label(463, 2590, "Grass-air diff", {anchor: "start", size: 17, len: 97});
    bottomLabels(x, 2642.8, evenHours, hhmm, 15);
    bottomLabels(x, 2658, oddHours, hhmm, 15);
    leftLabels(yL, 86.5, grassTicks, d => d, 15);
    rightLabels(yR, 904, diffTicks, d => d, 15);
    label(497, 2676, "Time GMT", {size: 15, len: 64});
    vTitle(54.5, 2420, "Grass Temp (Deg C)", 111);
    vTitle(941, 2409, "Grass Temp minus Air Temp (Deg C)", 235);
})();

// ===== 6. rainfall =====
(function () {
    const p = {l: 97.4, t: 2713, r: 934, b: 3178};
    const x = d3.scaleLinear().domain([0, 24]).range([121.8, 891]);
    const y = d3.scaleLinear().domain([0, 10]).range([p.b, p.t]);
    frame(46, 2703.4, 968, 3236.4);
    vLines(x, hours, p.t, p.b, dotted);
    hLines(y, d3.range(1, 10), p.l, p.r, dotted);
    plotBorder(p);
    mask(98.5, 2705, 410, 2773);
    mask(413, 2705, 888, 2751);
    svg.append("line").attr("x1", 414).attr("x2", 422).attr("y1", p.t).attr("y2", p.t).attr("stroke", "#000");
    drawLine(rainAccum, x, y, clipRect(p), "#000", 2.5);
    label(254, 2726.5, "Wokingham AWS 06 Oct 2012", {size: 19, len: 254});
    label(254.5, 2754, "Rainfall (TBR)", {size: 19, len: 115});
    label(653, 2727, "The official gauge normally catches a few percent more", {size: 19, len: 464});
    bottomLabels(x, 3195, evenHours, hhmm, 15);
    bottomLabels(x, 3211, oddHours, hhmm, 15);
    leftLabels(y, 86.5, rainTicks, d => d, 15);
    label(516, 3229, "Time (GMT)", {size: 15, len: 73});
    vTitle(54.5, 2947, "Rainfall accumulation (mm)", 173);
})();

// ===== 7. sunshine =====
(function () {
    const p = {l: 110, t: 3266, r: 963, b: 3721};
    const x = d3.scaleLinear().domain([3, 22]).range([135.9, 936.5]);
    const y = d3.scaleLinear().domain([0, 150]).range([p.b, p.t]);
    frame(30.8, 3255, 971, 3771.3);
    vLines(x, sunHours, p.t, p.b, s => s.attr("stroke", "#000").attr("stroke-width", 1).attr("stroke-dasharray", "5,3"));
    hLines(y, [50, 100], p.l, p.r, s => s.attr("stroke", "#999").attr("stroke-width", 1).attr("stroke-dasharray", "1,2"));
    plotBorder(p);
    mask(330, 3260, 697, 3331.5);
    mask(350, 3260, 680, 3407);
    svg.append("g").selectAll("line").data([50, 100, 150]).join("line")
        .attr("x1", p.l).attr("x2", p.l + 10).attr("y1", d => y(d)).attr("y2", d => y(d)).attr("stroke", "#000");
    drawLine(sunshine, x, y, clipRect({l: p.l, t: p.t, r: p.r, b: p.b + 2}), "#000", 2.5);
    label(511.5, 3276, "Wokingham sunshine", {size: 17, len: 183});
    label(511.5, 3306, "06-Oct", {size: 23, len: 77});
    label(511.5, 3348.4, "2012", {size: 14, weight: "bold", len: 36});
    label(511.5, 3377, "Total 9.10 Hrs", {size: 26, len: 161});
    bottomLabels(x, 3742, sunHours, d => d, 19);
    leftLabels(y, 97.4, [0, 100], d => d, 14);
    label(535, 3764.6, "Time (GMT)", {size: 15, len: 74});
    vTitle(57.7, 3495, "Sunshine (per cent per minute)", 197);
})();

// ===== 8. wind direction =====
(function () {
    const p = {l: 117.3, t: 3811.8, r: 947.4, b: 4280.3};
    const x = d3.scaleLinear().domain([0, 24]).range([141, 919.8]);
    const y = d3.scaleLinear().domain([0, 360]).range([p.b, p.t]);
    frame(32, 3792.5, 965, 4326);
    vLines(x, hours, p.t, p.b, solid(1));
    hLines(y, d3.range(10, 360, 10), p.l, p.r, solid(1.1));
    hLines(y, d3.range(30, 360, 30), p.l, p.r, solid(2.8));
    plotBorder(p);
    mask(383, 3956, 681, 4013);
    svg.append("g").selectAll("path").data(windDir).join("path").attr("d", diamond)
        .attr("transform", d => "translate(" + x(d[0]) + "," + y(d[1]) + ")").attr("fill", "#000");
    label(532, 3975, "Wokingham,  06 October 2012", {size: 17, len: 224});
    label(532, 3995, "5 minute mean wind direction", {size: 15, len: 183});
    bottomLabels(x, 4296.7, hours, d => d, 15);
    leftLabels(y, 105.8, dirTicks, d => d, 15);
    label(532, 4313, "Time (GMT)", {size: 15, len: 74});
    vTitle(64, 4046, "Direction, degrees true", 146);
})();

// ===== 9. wind speed =====
(function () {
    const p = {l: 91, t: 4380, r: 958.3, b: 4777};
    const x = d3.scaleLinear().domain([0, 24]).range([115.4, 912.7]);
    const y = d3.scaleLinear().domain([0, 50]).range([p.b, p.t]);
    frame(32, 4335.4, 965, 4853.3);
    vLines(x, hours, p.t, p.b, dotted);
    hLines(y, d3.range(5, 50, 5), p.l, p.r, dotted);
    svg.append("path").attr("d", "M439," + p.t + "H" + p.r + "V" + p.b + "H" + p.l + "V" + p.t)
        .attr("fill", "none").attr("stroke", "#000").attr("stroke-width", 1.2);
    const c = clipRect(p);
    drawLine(gustSpeed.map((v, i) => [i / 10, v]), x, y, c, "#4a4a4a", 1);
    drawLine(meanSpeed, x, y, c, "#000", 2);
    svg.append("g").selectAll("path").data(lowSpeedX10).join("path").attr("d", diamond)
        .attr("transform", d => "translate(" + x(d[0]) + "," + y(d[1]) + ")")
        .attr("fill", "#c8c8c8").attr("stroke", "#000").attr("stroke-width", 0.7);
    label(266, 4359, "Wokingham,  06 October 2012", {size: 21, len: 255});
    label(579, 4348, "Wind speed, 10 min mean / max gust", {size: 15, len: 232});
    label(579, 4366, "Speeds below 4 kt shown at x10 scale", {size: 15, len: 224});
    shadowBox(734, 4342, 960, 4368);
    legendLine(767, 779, 4356, "#000", 3);
    label(787, 4355, "Speed x 1", {anchor: "start", size: 12, len: 48});
    svg.append("path").attr("d", diamond).attr("transform", "translate(860,4356) scale(0.8)")
        .attr("fill", "#c8c8c8").attr("stroke", "#000").attr("stroke-width", 0.8);
    label(873, 4355, "Speed / 10", {anchor: "start", size: 12, len: 53});
    bottomLabels(x, 4796.4, d3.range(0, 24, 2), clock, 15);
    bottomLabels(x, 4812.4, oddHours, clock, 15);
    leftLabels(y, 79, speedTicks, d => d, 15);
    label(524, 4829, "Time (GMT)", {size: 16, len: 76});
    vTitle(46, 4578, "Speed (knots)", 89);
})();
</script>
</body></html>
